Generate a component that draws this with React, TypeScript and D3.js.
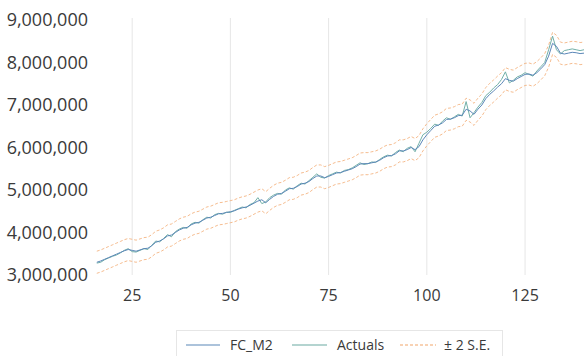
import React from 'react';
import * as d3 from 'd3';

// values in millions, one per period starting at period 16
const firstPeriod = 16;
const actuals = [
  3.28, 3.30, 3.36, 3.40, 3.44, 3.47, 3.52, 3.58, 3.62, 3.55,
  3.54, 3.58, 3.62, 3.60, 3.70, 3.80, 3.78, 3.86, 3.95, 3.90,
  4.02, 4.08, 4.12, 4.10, 4.20, 4.24, 4.22, 4.30, 4.36, 4.34,
  4.42, 4.45, 4.43, 4.48, 4.47, 4.52, 4.56, 4.60, 4.58, 4.66,
  4.70, 4.82, 4.68, 4.72, 4.82, 4.88, 4.92, 4.90, 5.00, 5.05,
  5.02, 5.10, 5.16, 5.14, 5.22, 5.30, 5.38, 5.30, 5.28, 5.34,
  5.38, 5.42, 5.40, 5.46, 5.48, 5.52, 5.58, 5.64, 5.60, 5.62,
  5.66, 5.65, 5.72, 5.78, 5.82, 5.80, 5.88, 5.94, 5.90, 5.98,
  6.02, 5.90, 6.10, 6.30, 6.36, 6.45, 6.55, 6.52, 6.62, 6.70,
  6.66, 6.72, 6.78, 6.74, 7.08, 6.70, 6.82, 6.95, 7.06, 7.22,
  7.30, 7.40, 7.48, 7.60, 7.78, 7.52, 7.58, 7.66, 7.70, 7.76,
  7.72, 7.68, 7.80, 7.90, 8.00, 8.30, 8.62, 8.30, 8.20, 8.28,
  8.30, 8.32, 8.30, 8.28, 8.30,
];
const fcM2 = [
  3.30, 3.33, 3.37, 3.41, 3.45, 3.49, 3.53, 3.57, 3.60, 3.58,
  3.56, 3.59, 3.62, 3.63, 3.69, 3.77, 3.80, 3.85, 3.92, 3.94,
  4.00, 4.06, 4.10, 4.12, 4.18, 4.22, 4.24, 4.29, 4.34, 4.36,
  4.40, 4.44, 4.45, 4.47, 4.49, 4.51, 4.55, 4.58, 4.60, 4.64,
  4.69, 4.74, 4.77, 4.70, 4.78, 4.85, 4.90, 4.92, 4.97, 5.03,
  5.04, 5.08, 5.14, 5.16, 5.20, 5.27, 5.33, 5.33, 5.29, 5.32,
  5.36, 5.40, 5.41, 5.44, 5.47, 5.50, 5.55, 5.61, 5.62, 5.62,
  5.64, 5.66, 5.70, 5.76, 5.80, 5.81, 5.85, 5.92, 5.92, 5.95,
  6.00, 5.95, 6.02, 6.18, 6.30, 6.40, 6.50, 6.53, 6.58, 6.66,
  6.67, 6.70, 6.75, 6.76, 6.90, 6.86, 6.78, 6.90, 7.00, 7.15,
  7.25, 7.33, 7.42, 7.50, 7.62, 7.58, 7.56, 7.62, 7.67, 7.72,
  7.73, 7.70, 7.76, 7.85, 7.95, 8.15, 8.45, 8.38, 8.22, 8.20,
  8.22, 8.24, 8.23, 8.21, 8.22,
];
// 2 standard errors of the forecast, millions
const twoSE = 0.26;
const xTicks = [25, 50, 75, 100, 125];
const yTicks = [3, 4, 5, 6, 7, 8, 9];

const font = '"Open Sans", sans-serif';

export default function App() {
  const x = d3.scaleLinear().domain([16, 140]).range([96.8, 584]);
  const y = d3.scaleLinear().domain([3, 9]).range([275, 20]);
  const fmt = d3.format(',');

  const mk = (vals: number[], off = 0) =>
    d3.line<number>()
      .x((d, i) => x(firstPeriod + i))
      .y(d => y(d + off))(vals) || '';

  const legend = [
    { label: 'FC_M2', color: '#5b87b8', dash: undefined, x1: 186, x2: 220, tx: 230 },
    { label: 'Actuals', color: '#6aaaa2', dash: undefined, x1: 292, x2: 327, tx: 337 },
    { label: '± 2 S.E.', color: '#f1a66a', dash: '3,2', x1: 400, x2: 436, tx: 444 },
  ];

  return (
    <svg width={588} height={356} style={{ position: 'absolute', left: 0, top: 0, background: '#fff' }}>
      {xTicks.map(t => (
        <g key={t}>
          <line x1={x(t)} x2={x(t)} y1={y(9) - 2} y2={y(3)} stroke="#e6e6e6" strokeWidth={1} />
          <text x={x(t)} y={301} textAnchor="middle" fontFamily={font} fontSize={16} fill="#3a3a3a">{t}</text>
        </g>
      ))}
      {yTicks.map(v => (
        <text key={v} x={88} y={y(v) + 6} textAnchor="end" fontFamily={font} fontSize={18} fill="#3a3a3a">
          {fmt(v * 1e6)}
        </text>
      ))}

      <path d={mk(fcM2, twoSE)} fill="none" stroke="#f1a66a" strokeWidth={1} strokeDasharray="3,2" opacity={0.75} />
      <path d={mk(fcM2, -twoSE)} fill="none" stroke="#f1a66a" strokeWidth={1} strokeDasharray="3,2" opacity={0.75} />
      <path d={mk(actuals)} fill="none" stroke="#72b0a8" strokeWidth={1} />
      <path d={mk(fcM2)} fill="none" stroke="#5b87b8" strokeWidth={1} />

      <rect x={176.5} y={330.5} width={326} height={30} fill="#fff" stroke="#e6e6e6" />
      {legend.map(l => (
        <g key={l.label}>
          <line x1={l.x1} x2={l.x2} y1={345} y2={345} stroke={l.color} strokeWidth={1.2} strokeDasharray={l.dash} />
          <text x={l.tx} y={350} fontFamily={font} fontSize={14} fill="#3a3a3a">{l.label}</text>
        </g>
      ))}
    </svg>
  );
}
